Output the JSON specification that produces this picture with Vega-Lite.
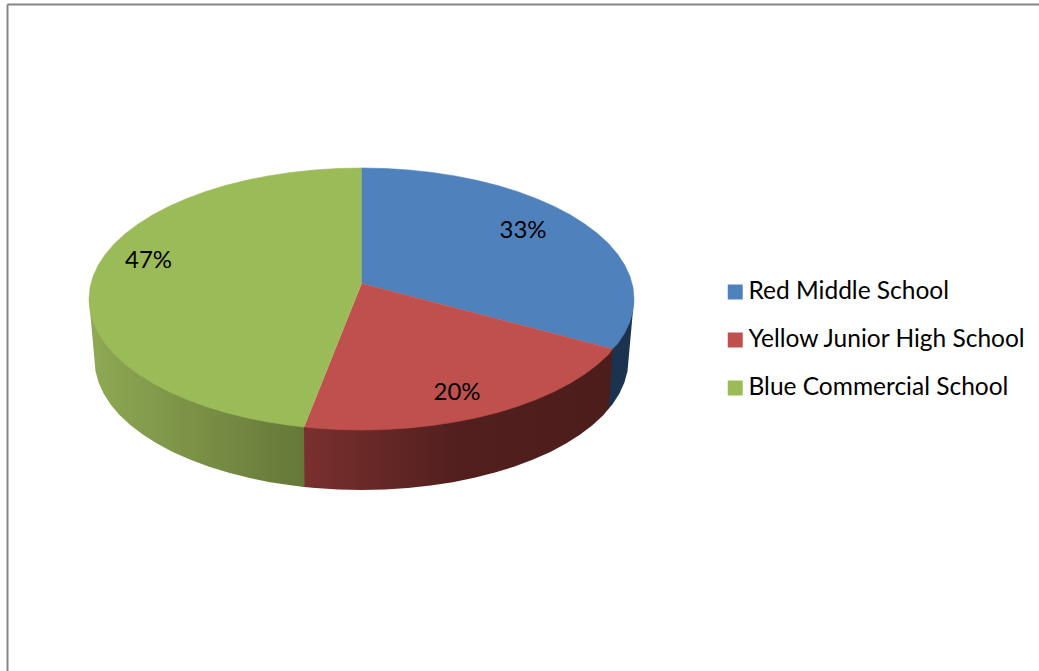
{
  "$schema": "https://vega.github.io/schema/vega-lite/v6.json",
  "width": 1032,
  "height": 667,
  "padding": {"left": 7, "top": 4, "right": 0, "bottom": 0},
  "autosize": "none",
  "background": "white",
  "config": {"view": {"stroke": null}, "font": "Lato"},
  "datasets": {
    "faces": [
      {"school":"Red Middle School","seq":0,"x":0,"y":15.5},{"school":"Red Middle School","seq":1,"x":0,"y":131},{"school":"Red Middle School","seq":2,"x":23.8,"y":130.5},{"school":"Red Middle School","seq":3,"x":47.3,"y":129},{"school":"Red Middle School","seq":4,"x":70.5,"y":126.5},{"school":"Red Middle School","seq":5,"x":93.2,"y":123.1},{"school":"Red Middle School","seq":6,"x":115.2,"y":118.7},{"school":"Red Middle School","seq":7,"x":136.3,"y":113.4},{"school":"Red Middle School","seq":8,"x":156.3,"y":107.3},{"school":"Red Middle School","seq":9,"x":175.2,"y":100.3},{"school":"Red Middle School","seq":10,"x":192.7,"y":92.6},{"school":"Red Middle School","seq":11,"x":208.7,"y":84.2},{"school":"Red Middle School","seq":12,"x":223.2,"y":75.1},{"school":"Red Middle School","seq":13,"x":236,"y":65.5},{"school":"Red Middle School","seq":14,"x":247,"y":55.4},{"school":"Red Middle School","seq":15,"x":256.1,"y":44.8},{"school":"Red Middle School","seq":16,"x":263.2,"y":33.9},{"school":"Red Middle School","seq":17,"x":268.4,"y":22.7},{"school":"Red Middle School","seq":18,"x":271.5,"y":11.4},{"school":"Red Middle School","seq":19,"x":272.5,"y":0},{"school":"Red Middle School","seq":20,"x":271.5,"y":-11.4},{"school":"Red Middle School","seq":21,"x":268.4,"y":-22.7},{"school":"Red Middle School","seq":22,"x":263.2,"y":-33.9},{"school":"Red Middle School","seq":23,"x":256.1,"y":-44.8},{"school":"Red Middle School","seq":24,"x":251,"y":-50},
      {"school":"Yellow Junior High School","seq":0,"x":0,"y":15.5},{"school":"Yellow Junior High School","seq":1,"x":251,"y":-50},{"school":"Yellow Junior High School","seq":2,"x":247,"y":-55.4},{"school":"Yellow Junior High School","seq":3,"x":236,"y":-65.5},{"school":"Yellow Junior High School","seq":4,"x":223.2,"y":-75.1},{"school":"Yellow Junior High School","seq":5,"x":208.7,"y":-84.2},{"school":"Yellow Junior High School","seq":6,"x":192.7,"y":-92.6},{"school":"Yellow Junior High School","seq":7,"x":175.2,"y":-100.3},{"school":"Yellow Junior High School","seq":8,"x":156.3,"y":-107.3},{"school":"Yellow Junior High School","seq":9,"x":136.3,"y":-113.4},{"school":"Yellow Junior High School","seq":10,"x":115.2,"y":-118.7},{"school":"Yellow Junior High School","seq":11,"x":93.2,"y":-123.1},{"school":"Yellow Junior High School","seq":12,"x":70.5,"y":-126.5},{"school":"Yellow Junior High School","seq":13,"x":47.3,"y":-129},{"school":"Yellow Junior High School","seq":14,"x":23.8,"y":-130.5},{"school":"Yellow Junior High School","seq":15,"x":0,"y":-131},{"school":"Yellow Junior High School","seq":16,"x":-23.8,"y":-130.5},{"school":"Yellow Junior High School","seq":17,"x":-47.3,"y":-129},{"school":"Yellow Junior High School","seq":18,"x":-57.5,"y":-128},
      {"school":"Blue Commercial School","seq":0,"x":0,"y":15.5},{"school":"Blue Commercial School","seq":1,"x":-57.5,"y":-128},{"school":"Blue Commercial School","seq":2,"x":-70.5,"y":-126.5},{"school":"Blue Commercial School","seq":3,"x":-93.2,"y":-123.1},{"school":"Blue Commercial School","seq":4,"x":-115.2,"y":-118.7},{"school":"Blue Commercial School","seq":5,"x":-136.3,"y":-113.4},{"school":"Blue Commercial School","seq":6,"x":-156.3,"y":-107.3},{"school":"Blue Commercial School","seq":7,"x":-175.2,"y":-100.3},{"school":"Blue Commercial School","seq":8,"x":-192.7,"y":-92.6},{"school":"Blue Commercial School","seq":9,"x":-208.7,"y":-84.2},{"school":"Blue Commercial School","seq":10,"x":-223.2,"y":-75.1},{"school":"Blue Commercial School","seq":11,"x":-236,"y":-65.5},{"school":"Blue Commercial School","seq":12,"x":-247,"y":-55.4},{"school":"Blue Commercial School","seq":13,"x":-256.1,"y":-44.8},{"school":"Blue Commercial School","seq":14,"x":-263.2,"y":-33.9},{"school":"Blue Commercial School","seq":15,"x":-268.4,"y":-22.7},{"school":"Blue Commercial School","seq":16,"x":-271.5,"y":-11.4},{"school":"Blue Commercial School","seq":17,"x":-272.5,"y":0},{"school":"Blue Commercial School","seq":18,"x":-271.5,"y":11.4},{"school":"Blue Commercial School","seq":19,"x":-268.4,"y":22.7},{"school":"Blue Commercial School","seq":20,"x":-263.2,"y":33.9},{"school":"Blue Commercial School","seq":21,"x":-256.1,"y":44.8},{"school":"Blue Commercial School","seq":22,"x":-247,"y":55.4},{"school":"Blue Commercial School","seq":23,"x":-236,"y":65.5},{"school":"Blue Commercial School","seq":24,"x":-223.2,"y":75.1},{"school":"Blue Commercial School","seq":25,"x":-208.7,"y":84.2},{"school":"Blue Commercial School","seq":26,"x":-192.7,"y":92.6},{"school":"Blue Commercial School","seq":27,"x":-175.2,"y":100.3},{"school":"Blue Commercial School","seq":28,"x":-156.3,"y":107.3},{"school":"Blue Commercial School","seq":29,"x":-136.3,"y":113.4},{"school":"Blue Commercial School","seq":30,"x":-115.2,"y":118.7},{"school":"Blue Commercial School","seq":31,"x":-93.2,"y":123.1},{"school":"Blue Commercial School","seq":32,"x":-70.5,"y":126.5},{"school":"Blue Commercial School","seq":33,"x":-47.3,"y":129},{"school":"Blue Commercial School","seq":34,"x":-23.8,"y":130.5},{"school":"Blue Commercial School","seq":35,"x":0,"y":131}
    ],
    "walls": [
      {"school":"Red Middle School","seq":0,"x":272.5,"y":0},{"school":"Red Middle School","seq":1,"x":249,"y":-50},{"school":"Red Middle School","seq":2,"x":245.5,"y":-111.5},{"school":"Red Middle School","seq":3,"x":250.9,"y":-105.5},{"school":"Red Middle School","seq":4,"x":257.9,"y":-94.6},{"school":"Red Middle School","seq":5,"x":262.9,"y":-83.6},{"school":"Red Middle School","seq":6,"x":266,"y":-72.3},{"school":"Red Middle School","seq":7,"x":267,"y":-61},
      {"school":"Yellow Junior High School","seq":0,"x":251,"y":-50},{"school":"Yellow Junior High School","seq":1,"x":247.5,"y":-109},{"school":"Yellow Junior High School","seq":2,"x":242,"y":-115.9},{"school":"Yellow Junior High School","seq":3,"x":231.2,"y":-126},{"school":"Yellow Junior High School","seq":4,"x":218.7,"y":-135.6},{"school":"Yellow Junior High School","seq":5,"x":204.5,"y":-144.6},{"school":"Yellow Junior High School","seq":6,"x":188.8,"y":-152.9},{"school":"Yellow Junior High School","seq":7,"x":171.6,"y":-160.6},{"school":"Yellow Junior High School","seq":8,"x":153.1,"y":-167.5},{"school":"Yellow Junior High School","seq":9,"x":133.5,"y":-173.6},{"school":"Yellow Junior High School","seq":10,"x":112.8,"y":-178.8},{"school":"Yellow Junior High School","seq":11,"x":91.3,"y":-183.2},{"school":"Yellow Junior High School","seq":12,"x":69.1,"y":-186.6},{"school":"Yellow Junior High School","seq":13,"x":46.4,"y":-189},{"school":"Yellow Junior High School","seq":14,"x":23.3,"y":-190.5},{"school":"Yellow Junior High School","seq":15,"x":0,"y":-191},{"school":"Yellow Junior High School","seq":16,"x":-23.3,"y":-190.5},{"school":"Yellow Junior High School","seq":17,"x":-46.4,"y":-189},{"school":"Yellow Junior High School","seq":18,"x":-59.5,"y":-187.8},{"school":"Yellow Junior High School","seq":19,"x":-59.5,"y":-127.5},
      {"school":"Blue Commercial School","seq":0,"x":-57.5,"y":-128},{"school":"Blue Commercial School","seq":1,"x":-57,"y":-188},{"school":"Blue Commercial School","seq":2,"x":-69.1,"y":-186.6},{"school":"Blue Commercial School","seq":3,"x":-91.3,"y":-183.2},{"school":"Blue Commercial School","seq":4,"x":-112.8,"y":-178.8},{"school":"Blue Commercial School","seq":5,"x":-133.5,"y":-173.6},{"school":"Blue Commercial School","seq":6,"x":-153.1,"y":-167.5},{"school":"Blue Commercial School","seq":7,"x":-171.6,"y":-160.6},{"school":"Blue Commercial School","seq":8,"x":-188.8,"y":-152.9},{"school":"Blue Commercial School","seq":9,"x":-204.5,"y":-144.6},{"school":"Blue Commercial School","seq":10,"x":-218.7,"y":-135.6},{"school":"Blue Commercial School","seq":11,"x":-231.2,"y":-126},{"school":"Blue Commercial School","seq":12,"x":-242,"y":-115.9},{"school":"Blue Commercial School","seq":13,"x":-250.9,"y":-105.5},{"school":"Blue Commercial School","seq":14,"x":-257.9,"y":-94.6},{"school":"Blue Commercial School","seq":15,"x":-262.9,"y":-83.6},{"school":"Blue Commercial School","seq":16,"x":-266,"y":-72.3},{"school":"Blue Commercial School","seq":17,"x":-267,"y":-61},{"school":"Blue Commercial School","seq":18,"x":-272.5,"y":0}
    ],
    "labels": [
      {"school":"Red Middle School","share":0.33,"x":161.5,"y":68},
      {"school":"Yellow Junior High School","share":0.20,"x":95.5,"y":-94},
      {"school":"Blue Commercial School","share":0.47,"x":-213,"y":38}
    ]
  },
  "encoding": {
    "x": {"field":"x","type":"quantitative","scale":{"domain":[-354.5,677.5],"nice":false,"zero":false},"axis":{"orient":"top","title":null,"labels":false,"ticks":false,"grid":false,"domain":true,"domainColor":"#868686","domainWidth":2}},
    "y": {"field":"y","type":"quantitative","scale":{"domain":[-372,295],"nice":false,"zero":false},"axis":{"orient":"left","title":null,"labels":false,"ticks":false,"grid":false,"domain":true,"domainColor":"#868686","domainWidth":2}}
  },
  "layer": [
    {
      "description": "Side wall of the blue slice",
      "data": {"name":"walls"},
      "transform": [{"filter":"datum.school === 'Red Middle School'"}],
      "mark": {"type":"line","fill":"#1c3350","stroke":null},
      "encoding": {"order":{"field":"seq","type":"quantitative"}}
    },
    {
      "description": "Side wall of the red slice, darkening to the right",
      "data": {"name":"walls"},
      "transform": [{"filter":"datum.school === 'Yellow Junior High School'"}],
      "mark": {"type":"line","stroke":null,"fill":{"gradient":"linear","x1":0,"y1":0,"x2":1,"y2":0,"stops":[{"offset":0,"color":"#7a302e"},{"offset":0.5,"color":"#521f1e"},{"offset":1,"color":"#4c1d1b"}]}},
      "encoding": {"order":{"field":"seq","type":"quantitative"}}
    },
    {
      "description": "Side wall of the green slice, darkening to the right",
      "data": {"name":"walls"},
      "transform": [{"filter":"datum.school === 'Blue Commercial School'"}],
      "mark": {"type":"line","stroke":null,"fill":{"gradient":"linear","x1":0,"y1":0,"x2":1,"y2":0,"stops":[{"offset":0,"color":"#8fa954"},{"offset":1,"color":"#657838"}]}},
      "encoding": {"order":{"field":"seq","type":"quantitative"}}
    },
    {
      "description": "Top faces of the three slices, with a hairline of their own colour to close the seams",
      "data": {"name":"faces"},
      "mark": {"type":"line","filled":true,"strokeWidth":0.6},
      "encoding": {
        "order": {"field":"seq","type":"quantitative"},
        "stroke": {
          "field":"school","type":"nominal",
          "scale":{"domain":["Red Middle School","Yellow Junior High School","Blue Commercial School"],"range":["#4f81bd","#c0504d","#9bbb59"]},
          "legend":null
        },
        "color": {
          "field":"school","type":"nominal",
          "scale":{"domain":["Red Middle School","Yellow Junior High School","Blue Commercial School"],"range":["#4f81bd","#c0504d","#9bbb59"]},
          "legend":{"title":null,"orient":"none","legendX":716,"legendY":273,"symbolType":"square","symbolSize":225,"symbolStrokeWidth":0,"symbolOpacity":1,"labelFont":"Lato","labelFontSize":24.5,"labelColor":"#000000","labelLimit":400,"labelOffset":1,"rowPadding":18,"columnPadding":0,"padding":0,"clipHeight":30}
        }
      }
    },
    {
      "description": "Percentage labels",
      "data": {"name":"labels"},
      "mark": {"type":"text","font":"Lato","fontSize":24,"color":"#000000","align":"center","baseline":"middle"},
      "encoding": {"text":{"field":"share","type":"quantitative","format":".0%"}}
    }
  ]
}
